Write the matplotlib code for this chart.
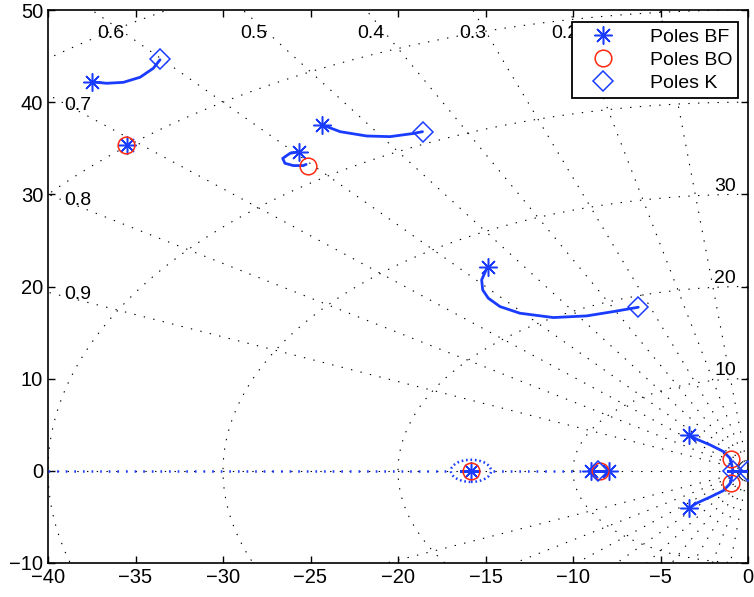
import numpy as np
import matplotlib.pyplot as plt
from matplotlib.patches import Ellipse

plt.rcParams['font.family'] = ['Liberation Sans', 'DejaVu Sans']
plt.rcParams['lines.scale_dashes'] = False

# sgrid values
zeta = [0.1, 0.2, 0.3, 0.4, 0.5, 0.6, 0.7, 0.8, 0.9]
wn = [10, 20, 30, 40, 50, 60]
wn_labels = [10, 20, 30]

br1_re = [-37.47, -36.65, -35.7, -34.74, -33.98, -33.6]
br1_im = [42.2, 42.05, 42.15, 42.7, 43.68, 44.6]
br2_re = [-24.32, -23.31, -21.79, -20.46, -19.13, -18.6]
br2_im = [37.53, 36.8, 36.33, 36.26, 36.6, 36.8]
br3_re = [-25.64, -26.17, -26.59, -26.46, -25.98, -25.41, -25.25]
br3_im = [34.63, 34.45, 33.9, 33.37, 33.12, 33.12, 33.25]
br4_re = [-14.88, -15.22, -15.16, -14.84, -14.17, -13.03, -11.12, -9.22, -7.69, -6.27]
br4_im = [22.16, 20.72, 19.63, 18.73, 17.82, 17.1, 16.63, 16.81, 17.28, 17.75]
br5_re = [-3.37, -2.93, -2.17, -1.41, -1.03, -0.93, -0.87]
br5_im = [3.9, 3.43, 2.82, 2.1, 1.38, 0.65, 0.1]
br6_re = [-3.37, -2.93, -2.17, -1.41, -1.03, -0.93, -0.87]
br6_im = [-4.05, -3.5, -2.85, -2.15, -1.4, -0.65, -0.1]
# real axis pieces
real_dot = [(-40, -16.9), (-14.6, -9.1)]
real_thick = [(-16.4, -15.5), (-9.0, -7.9), (-1.14, 0.0)]
loop_center, loop_w, loop_h = -15.83, 2.3, 2.4

# poles
bf_re = [-37.47, -35.5, -24.32, -25.64, -14.88, -15.83, -9.0, -7.93, -3.37, -3.37]
bf_im = [42.2, 35.35, 37.53, 34.63, 22.16, 0.0, 0.0, 0.0, 3.9, -4.05]
bo_re = [-35.55, -25.12, -15.83, -8.45, -0.95, -0.95]
bo_im = [35.3, 33.12, 0.0, 0.0, 1.27, -1.33]
k_re = [-33.6, -18.55, -6.27, -8.6, -0.85, 0.0]
k_im = [44.65, 36.8, 17.75, 0.0, 0.0, 0.0]

blue = '#1a3cff'
red = '#ff2a10'

fig = plt.figure(figsize=(7.54, 5.97), dpi=100)
ax = fig.add_axes([48 / 754, 1 - 563 / 597, 700 / 754, 553 / 597])

# grid: damping lines and wn circles
dots = dict(color='k', lw=0.8, ls=(0, (1, 6)), zorder=1)
ax.plot([-60, 0], [0, 0], **dots)
for z in zeta:
    th = np.arccos(z)
    ax.plot([0, -80 * np.cos(th)], [0, 80 * np.sin(th)], **dots)
    ax.plot([0, -80 * np.cos(th)], [0, -80 * np.sin(th)], **dots)
phi = np.linspace(np.pi / 2, 3 * np.pi / 2, 400)
for w in wn:
    ax.plot(w * np.cos(phi), w * np.sin(phi), **dots)

# grid labels
for z in zeta:
    t = np.tan(np.arccos(z))
    if z < 0.65:
        ax.text(-47.5 / t - 0.8, 47.5, f'{z:g}', ha='center', va='center', fontsize=14, clip_on=True)
    else:
        ax.text(-38.3, 38.3 * t + 0.6, f'{z:g}', ha='center', va='center', fontsize=14, clip_on=True)
for w in wn_labels:
    ax.text(-1.3, w + 0.9, str(w), ha='center', va='center', fontsize=14, clip_on=True)

# locus
for xs, ys in [(br1_re, br1_im), (br2_re, br2_im), (br3_re, br3_im), (br4_re, br4_im),
               (br5_re, br5_im), (br6_re, br6_im)]:
    ax.plot(xs, ys, color=blue, lw=2, solid_capstyle='round', zorder=3)
for a, b in real_dot:
    ax.plot([a, b], [0, 0], color=blue, lw=1.8, ls=(0, (1.2, 5)), zorder=3)
for a, b in real_thick:
    ax.plot([a, b], [0, 0], color=blue, lw=2.2, zorder=3)
ax.add_patch(Ellipse((loop_center, 0), loop_w, loop_h, fill=False, ec=blue, lw=1.8,
                     ls=(0, (1.2, 2)), zorder=3))

ax.plot(bf_re, bf_im, ls='none', marker=(8, 2, 0), ms=13, mec=blue, mew=1.1,
        label='Poles BF', zorder=4)
ax.plot(bo_re, bo_im, ls='none', marker='o', ms=12, mfc='none', mec=red, mew=1.1,
        label='Poles BO', zorder=4)
ax.plot(k_re, k_im, ls='none', marker='D', ms=10, mfc='none', mec=blue, mew=1.1,
        label='Poles K', zorder=4)

ax.set_xlim(-40, 0)
ax.set_ylim(-10, 50)
ax.set_xticks(np.arange(-40, 1, 5))
ax.set_yticks(np.arange(-10, 51, 10))
ax.tick_params(direction='in', top=True, right=True, labelsize=14.5, length=5, width=1)
for s in ax.spines.values():
    s.set_linewidth(1.2)

leg = ax.legend(loc='upper right', bbox_to_anchor=(0.986, 0.978), borderaxespad=0,
                fancybox=False, framealpha=1, edgecolor='k', fontsize=14,
                handlelength=2.6, handletextpad=1.1, borderpad=0.3, labelspacing=0.28)
leg.get_frame().set_linewidth(1.3)

plt.savefig('out.png', dpi=100)
